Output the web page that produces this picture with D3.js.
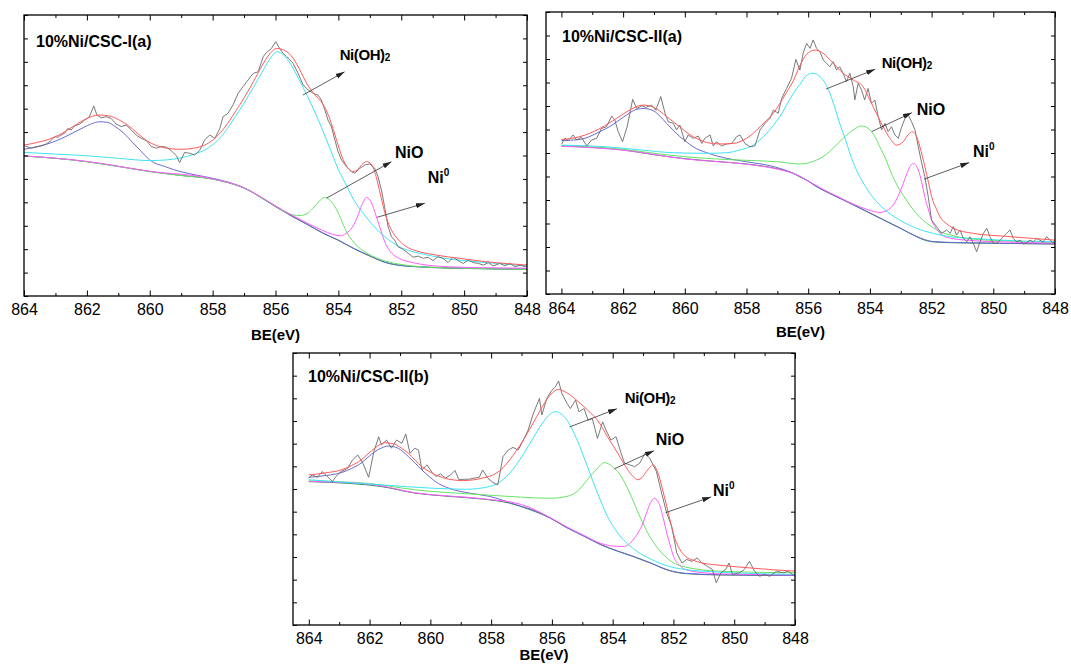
<!DOCTYPE html>
<html>
<head>
<meta charset="utf-8">
<script src="https://cdn.jsdelivr.net/npm/d3@7"></script>
<style>
  body { margin: 0; background: #fff; }
  svg { display: block; }
  text { font-family: "Liberation Sans", Arial, Helvetica, sans-serif; fill: #000; }
</style>
</head>
<body>
<svg id="chart" width="1071" height="667"></svg>
<script>
// ---------- Binding energy axis ----------
const beMajorTicks = [864, 862, 860, 858, 856, 854, 852, 850, 848];
const beMinorTicks = [863, 861, 859, 857, 855, 853, 851, 849];
const intensityTicks = d3.range(0, 100.001, 100 / 12);

// ---------- 10%Ni/CSC-I(a): [BE (eV), intensity (a.u.)] ----------
const p1Raw = [[863.98,53.4],[863.77,52.6],[863.61,53.0],[863.45,53.4],[863.29,54.1],[863.14,55.3],[863.03,56.7],[862.92,56.5],[862.82,57.3],[862.71,57.9],[862.61,59.6],[862.50,59.1],[862.39,60.5],[862.23,61.2],[862.07,62.6],[861.92,63.8],[861.78,67.6],[861.68,64.4],[861.54,63.4],[861.39,63.8],[861.23,63.2],[861.07,61.2],[860.91,60.3],[860.75,60.8],[860.59,59.1],[860.43,57.3],[860.27,56.1],[860.11,55.3],[859.95,53.2],[859.79,52.6],[859.63,53.2],[859.47,53.0],[859.31,51.6],[859.15,49.9],[859.05,47.5],[858.89,51.1],[858.73,50.8],[858.57,50.2],[858.41,51.8],[858.25,55.6],[858.09,57.3],[857.93,56.1],[857.77,59.6],[857.67,63.8],[857.51,65.0],[857.35,68.0],[857.19,72.1],[857.03,74.5],[856.87,76.9],[856.71,79.2],[856.55,79.8],[856.39,85.2],[856.29,86.6],[856.13,88.1],[855.99,90.5],[855.87,88.1],[855.76,86.4],[855.65,85.2],[855.55,84.2],[855.44,82.8],[855.28,79.2],[855.12,75.1],[854.96,73.3],[854.80,72.1],[854.65,71.5],[854.54,69.8],[854.43,66.2],[854.33,62.6],[854.22,60.2],[854.11,55.5],[854.01,51.4],[853.90,48.4],[853.74,46.0],[853.58,44.2],[853.48,43.7],[853.32,45.4],[853.16,46.6],[853.00,47.0],[852.84,45.4],[852.74,42.5],[852.63,37.7],[852.53,31.8],[852.42,24.7],[852.31,21.1],[852.21,19.9],[852.10,17.5],[851.94,16.6],[851.78,15.2],[851.62,13.8],[851.46,14.2],[851.30,13.4],[851.14,13.8],[850.99,12.6],[850.83,14.0],[850.67,13.4],[850.51,11.9],[850.35,13.8],[850.19,12.6],[850.03,11.6],[849.87,12.8],[849.71,11.9],[849.55,11.6],[849.39,11.0],[849.23,11.9],[849.08,10.7],[848.86,11.6],[848.70,10.7],[848.54,11.6],[848.38,10.4],[848.22,11.0],[848.06,10.4],[848.00,11.6]];
const p1Envelope = [[864,53.7],[863.6,54.6],[863.2,55.8],[862.8,57.8],[862.4,60.6],[862.1,62.6],[861.85,63.9],[861.6,64.4],[861.3,64.1],[861,62.8],[860.7,60.8],[860.4,58.0],[860.1,55.3],[859.8,53.6],[859.4,52.5],[859,52.2],[858.6,52.6],[858.2,54.0],[857.9,56.4],[857.6,60.2],[857.3,65.2],[857,70.5],[856.7,76.3],[856.4,82.5],[856.15,86.6],[855.97,88.1],[855.75,87.6],[855.5,85.5],[855.25,81.0],[855,75.5],[854.75,71.6],[854.5,68.4],[854.3,63.8],[854.15,58.8],[854,53.4],[853.85,48.6],[853.7,45.6],[853.55,44.3],[853.4,44.8],[853.25,46.8],[853.1,47.8],[852.95,46.9],[852.8,42.5],[852.65,35.5],[852.5,28.8],[852.35,24.3],[852.2,21.5],[852.05,19.5],[851.8,17.3],[851.5,16.0],[851,14.8],[850.5,13.9],[850,13.2],[849.3,12.2],[848.6,11.5],[848,11.0]];
const p1Background = [[864,49.8],[863,49.0],[862,47.8],[861,46.1],[860,44.3],[859,42.9],[858,41.6],[857.5,40.3],[857,38.4],[856.5,35.3],[856,31.8],[855.5,28.5],[855,25.5],[854.5,22.4],[854,19.8],[853.5,16.8],[853,14.2],[852.5,11.9],[852,10.8],[851.5,10.4],[851,10.1],[850,9.8],[849,9.6],[848,9.5]];
const p1Satellite = [[864,52.2],[863.5,53.4],[863.2,54.3],[862.7,56.6],[862.4,58.3],[862.1,60.0],[861.85,61.3],[861.6,62.0],[861.35,61.8],[861.1,60.3],[860.85,58.2],[860.6,55.3],[860.3,51.8],[860,48.4],[859.5,46.0],[859,44.2],[858.5,43.0],[858,41.9],[857.5,40.5],[857,38.5],[856.5,35.4],[856,31.9],[855.5,28.6],[855,25.6],[854.5,22.5],[854,19.9],[853.5,16.9],[853,14.3],[852.5,12.0],[852,10.9],[851,10.2],[850,9.9],[848,9.6]];
const p1NiOH2 = [[864,51.1],[863,50.5],[862,49.9],[861,49.0],[860,48.2],[859.5,48.4],[859,49.2],[858.6,50.4],[858.2,52.3],[857.9,54.8],[857.6,58.5],[857.3,63.5],[857,68.6],[856.7,74.3],[856.4,80.2],[856.15,84.8],[855.95,86.9],[855.75,85.8],[855.5,82.2],[855.25,77.0],[855,71.5],[854.75,65.5],[854.5,59.0],[854.25,52.0],[854,45.0],[853.75,39.5],[853.5,34.0],[853.25,30.0],[853,26.5],[852.7,22.8],[852.4,20.0],[852,17.2],[851.5,15.4],[851,14.2],[850.5,13.2],[850,12.6],[849,11.6],[848,10.7]];
const p1NiO = [[864,49.8],[863,49.0],[862,47.8],[861,46.1],[860,44.3],[859,42.9],[858,41.6],[857.5,40.3],[857,38.4],[856.5,35.4],[856,32.0],[855.6,29.4],[855.25,28.6],[855,29.3],[854.8,31.3],[854.6,33.8],[854.45,35.1],[854.3,34.4],[854.15,32.5],[854,29.5],[853.85,25.5],[853.7,22.0],[853.5,19.0],[853.3,16.8],[853.1,15.3],[852.8,13.6],[852.5,12.4],[852,11.2],[851.2,10.3],[850,9.9],[848,9.5]];
const p1Ni0 = [[864,49.9],[862,47.9],[860,44.4],[858,41.7],[857,38.5],[856.5,35.5],[856,32.1],[855.5,28.9],[855,26.0],[854.5,23.3],[854.2,22.0],[853.95,21.4],[853.75,22.3],[853.55,24.6],[853.4,28.0],[853.25,32.5],[853.1,35.1],[852.95,33.2],[852.8,28.5],[852.65,23.4],[852.5,18.6],[852.3,15.2],[852.05,13.3],[851.6,11.8],[851.2,11.0],[850.5,10.4],[849.5,10.1],[848,9.9]];

// ---------- 10%Ni/CSC-II(a) ----------
const p2Raw = [[863.99,53.2],[863.89,55.2],[863.78,54.4],[863.62,56.4],[863.51,54.6],[863.35,55.6],[863.18,52.5],[863.02,54.6],[862.86,55.2],[862.70,58.7],[862.54,59.3],[862.37,63.1],[862.27,61.7],[862.16,57.6],[862.02,54.0],[861.87,59.3],[861.69,69.0],[861.56,65.8],[861.40,66.7],[861.26,66.2],[861.08,67.0],[860.94,65.2],[860.78,70.0],[860.64,64.1],[860.54,61.1],[860.37,60.5],[860.27,58.2],[860.16,59.9],[860.00,54.0],[859.89,56.4],[859.73,55.2],[859.56,56.0],[859.45,53.4],[859.35,55.2],[859.18,56.4],[859.08,52.5],[858.97,54.0],[858.81,52.5],[858.64,53.2],[858.48,53.4],[858.32,55.8],[858.21,56.4],[858.05,53.4],[857.89,52.2],[857.73,52.5],[857.56,58.2],[857.40,60.5],[857.24,62.3],[857.13,65.2],[856.97,64.1],[856.86,69.4],[856.70,72.9],[856.54,76.5],[856.40,83.2],[856.27,79.4],[856.16,85.5],[856.05,88.9],[855.94,87.1],[855.84,90.1],[855.73,87.1],[855.62,85.9],[855.51,83.0],[855.41,81.8],[855.30,80.6],[855.19,82.4],[855.08,79.4],[854.98,80.6],[854.87,78.3],[854.76,75.3],[854.65,78.3],[854.54,73.5],[854.49,68.8],[854.38,74.7],[854.27,72.3],[854.17,68.8],[854.06,72.9],[853.95,67.6],[853.84,68.8],[853.73,62.9],[853.62,58.2],[853.51,60.5],[853.41,57.6],[853.30,59.3],[853.19,56.4],[853.08,55.2],[852.97,59.3],[852.86,62.3],[852.76,63.5],[852.65,61.1],[852.54,58.2],[852.43,52.2],[852.32,46.3],[852.22,41.6],[852.11,34.5],[852.00,26.2],[851.84,23.9],[851.68,21.5],[851.51,22.7],[851.40,21.5],[851.30,23.9],[851.19,20.9],[851.08,22.7],[850.97,19.7],[850.86,18.5],[850.76,20.3],[850.65,18.0],[850.54,15.0],[850.43,18.5],[850.32,21.5],[850.21,23.3],[850.11,20.3],[850.00,18.0],[849.89,18.0],[849.78,19.1],[849.67,20.3],[849.57,21.5],[849.46,22.7],[849.35,19.7],[849.24,18.5],[849.13,19.1],[849.03,17.7],[848.92,18.2],[848.81,19.1],[848.70,18.5],[848.59,19.7],[848.49,19.1],[848.38,18.5],[848.27,20.3],[848.16,19.1],[848.05,18.0],[848.00,19.1]];
const p2Envelope = [[864,54.8],[863.4,55.8],[862.75,58.7],[862.21,62.3],[861.9,64.5],[861.6,66.3],[861.35,67.0],[861.02,66.2],[860.8,64.8],[860.59,62.9],[860.38,61.1],[860.16,59.3],[859.95,57.4],[859.73,55.8],[859.5,54.6],[859.29,53.7],[858.86,53.2],[858.43,53.4],[858,55.2],[857.78,57.0],[857.56,59.3],[857.35,61.6],[857.13,64.1],[856.92,67.6],[856.7,71.5],[856.48,75.7],[856.27,81.0],[856.05,85.0],[855.78,86.5],[855.51,85.3],[855.19,81.8],[854.87,78.3],[854.54,75.9],[854.22,73.5],[854,68.8],[853.79,64.1],[853.57,59.3],[853.35,55.2],[853.14,52.8],[852.92,54.0],[852.76,56.5],[852.62,57.5],[852.52,56.6],[852.38,52.2],[852.22,45.2],[852.1,39.5],[852,34.5],[851.85,30.3],[851.73,27.4],[851.5,24.8],[851.3,23.3],[850.65,21.5],[849.78,20.6],[848.7,19.7],[848,19.1]];
const p2Background = [[864,52.5],[863,52.0],[862,51.1],[861,49.4],[860,48.0],[859,47.0],[858,46.1],[857.5,45.4],[857,44.4],[856.5,42.8],[856.25,41.4],[856,40.0],[855.75,38.2],[855.2,35.1],[854.65,32.2],[854.1,29.2],[853.55,26.2],[853,23.2],[852.5,20.4],[852.2,19.0],[851.95,18.5],[851.4,18.2],[850,18.0],[848,17.7]];
const p2Satellite = [[864,54.4],[863.4,54.8],[862.75,57.6],[862.4,59.6],[862.2,61.1],[861.9,63.4],[861.67,65.0],[861.35,65.8],[861.02,65.0],[860.8,63.0],[860.59,60.5],[860.35,57.8],[860.16,55.8],[859.95,54.0],[859.73,52.2],[859.29,50.1],[858.64,48.1],[858,46.9],[857.13,45.2],[856.48,42.8],[856,40.1],[855.75,38.3],[855.2,35.2],[854.65,32.3],[854.1,29.3],[853.55,26.3],[853,23.3],[852.5,20.5],[851.95,18.6],[851,18.2],[848,17.8]];
const p2NiOH2 = [[864,52.8],[862.54,52.2],[861.45,51.1],[860.37,50.1],[859.29,49.9],[858.64,50.1],[858.21,51.1],[857.78,52.8],[857.35,57.0],[856.92,62.9],[856.48,71.2],[856.27,74.3],[856.05,77.5],[855.84,78.3],[855.62,77.1],[855.45,74.8],[855.3,71.2],[855.15,66.5],[854.98,60.5],[854.8,55.0],[854.65,49.9],[854.5,45.5],[854.33,41.6],[854.15,38.2],[854,35.7],[853.57,30.4],[853.03,26.2],[852.49,23.3],[851.95,21.5],[851.4,20.3],[850.5,19.6],[849.78,19.1],[848,18.5]];
const p2NiO = [[864,52.6],[863,52.1],[862,51.3],[861,49.9],[860,48.7],[859,47.9],[858,47.4],[857,46.9],[856.27,46.1],[855.73,47.5],[855.45,49.2],[855.19,51.7],[854.87,55.2],[854.54,58.2],[854.27,59.6],[854,58.2],[853.84,55.8],[853.68,52.2],[853.5,48.2],[853.35,44.0],[853.2,40.3],[853.03,36.9],[852.8,33.0],[852.59,29.8],[852.38,27.2],[852.16,25.1],[851.95,23.5],[851.73,22.1],[851.3,20.7],[850.86,19.7],[849.78,18.9],[848,18.2]];
const p2Ni0 = [[864,52.4],[862,51.0],[860,47.9],[858,46.0],[857,44.3],[856.5,42.8],[856,40.1],[855.5,37.0],[855,34.3],[854.5,31.7],[854.1,30.0],[853.85,29.2],[853.68,28.9],[853.45,29.6],[853.24,31.6],[853.08,34.8],[852.92,39.2],[852.8,42.8],[852.7,45.2],[852.59,46.3],[852.5,45.6],[852.43,44.0],[852.32,39.5],[852.22,34.5],[852.1,29.8],[852,26.2],[851.85,23.2],[851.73,21.5],[851.4,19.8],[850.86,19.1],[849.5,18.4],[848,18.0]];

// ---------- 10%Ni/CSC-II(b) ----------
const p3Raw = [[864.00,54.0],[863.89,55.2],[863.72,54.3],[863.56,56.4],[863.39,54.6],[863.22,52.7],[863.11,54.6],[862.94,56.4],[862.72,57.6],[862.56,60.7],[862.39,62.5],[862.22,59.5],[862.03,54.3],[861.86,63.7],[861.70,69.2],[861.61,66.2],[861.44,68.0],[861.28,65.0],[861.11,68.0],[860.94,66.8],[860.81,70.2],[860.67,63.1],[860.52,65.0],[860.39,64.3],[860.28,57.0],[860.11,58.9],[859.94,56.0],[859.81,54.6],[859.67,55.6],[859.50,54.0],[859.33,55.2],[859.19,56.8],[859.06,53.4],[858.89,53.6],[858.72,53.6],[858.56,54.0],[858.39,54.3],[858.28,57.0],[858.11,54.0],[857.94,52.4],[857.78,51.5],[857.61,61.9],[857.44,64.3],[857.28,65.3],[857.11,64.3],[856.94,68.0],[856.78,71.7],[856.61,77.8],[856.41,83.3],[856.33,77.2],[856.17,83.3],[856.00,86.3],[855.89,87.5],[855.78,89.7],[855.67,85.1],[855.50,81.4],[855.39,79.6],[855.22,82.7],[855.11,78.4],[854.94,79.6],[854.81,75.3],[854.67,75.9],[854.50,68.6],[854.33,74.7],[854.22,71.7],[854.06,68.0],[853.89,69.2],[853.72,63.1],[853.61,59.5],[853.44,58.9],[853.28,58.2],[853.11,59.5],[852.94,63.1],[852.78,61.3],[852.67,58.9],[852.56,56.4],[852.39,48.5],[852.22,41.1],[852.06,36.3],[851.89,26.5],[851.72,22.8],[851.56,24.1],[851.39,23.4],[851.22,24.7],[851.06,22.8],[850.89,21.6],[850.72,20.4],[850.59,15.5],[850.44,19.2],[850.28,20.4],[850.17,22.8],[850.06,18.6],[849.83,19.2],[849.67,20.4],[849.50,23.4],[849.33,19.8],[849.17,17.9],[849.00,18.6],[848.83,17.9],[848.61,19.8],[848.39,19.2],[848.22,19.8],[848.00,17.9]];
const p3Envelope = [[864,55.2],[863.4,56.0],[862.94,57.0],[862.6,58.6],[862.28,60.7],[862.05,62.9],[861.83,65.0],[861.5,67.0],[861.17,66.5],[860.95,65.0],[860.72,63.1],[860.5,60.6],[860.28,58.2],[860.05,56.5],[859.83,55.2],[859.39,53.6],[858.94,53.1],[858.28,54.0],[857.83,55.8],[857.6,57.9],[857.39,60.7],[857.17,64.1],[856.94,68.0],[856.72,72.2],[856.5,76.6],[856.28,80.9],[856.06,84.5],[855.78,86.6],[855.55,85.6],[855.39,84.5],[855.17,82.5],[854.94,80.2],[854.72,77.9],[854.5,75.3],[854.17,69.2],[853.83,63.1],[853.5,57.0],[853.33,54.6],[853.17,53.4],[853.03,54.3],[852.89,56.4],[852.75,58.3],[852.67,58.9],[852.55,57.0],[852.44,53.4],[852.33,48.5],[852.22,43.6],[852.08,37.0],[851.94,31.4],[851.78,27.6],[851.61,25.3],[851.35,23.8],[851.06,22.8],[850.5,22.0],[849.94,21.4],[848.83,20.4],[848,19.8]];
const p3Background = [[864,52.7],[862.72,52.1],[861.61,50.9],[860.5,48.5],[859.39,47.3],[858.28,46.3],[857.39,44.8],[856.72,42.4],[856.06,39.3],[855.5,35.7],[854.94,32.6],[854.39,29.5],[853.83,27.1],[853.28,25.0],[852.72,22.6],[852.17,20.1],[851.61,18.9],[850.5,18.4],[848,18.2]];
const p3Satellite = [[864,54.3],[863.4,55.0],[862.94,56.0],[862.6,57.5],[862.28,59.5],[862.05,61.7],[861.83,63.7],[861.6,65.1],[861.39,65.8],[861.06,65.0],[860.9,63.7],[860.72,61.9],[860.5,59.5],[860.28,57.0],[860.05,54.7],[859.83,52.7],[859.39,50.3],[858.72,48.5],[858.06,47.3],[857.17,44.2],[856.5,41.8],[856.06,39.4],[855.5,35.8],[854.94,32.7],[854.39,29.6],[853.83,27.2],[853.28,25.1],[852.72,22.7],[852.17,20.2],[851.61,19.0],[850.5,18.5],[848,18.3]];
const p3NiOH2 = [[864,53.4],[861.61,51.5],[859.94,50.3],[858.83,49.9],[858.06,50.9],[857.61,53.4],[857.17,58.9],[856.72,66.8],[856.28,74.7],[856.05,77.6],[855.89,78.4],[855.7,77.6],[855.5,75.3],[855.17,68.0],[854.83,58.2],[854.5,48.5],[854.17,39.9],[853.83,33.8],[853.28,27.7],[852.72,24.1],[852.17,21.6],[851.06,19.8],[848,18.6]];
const p3NiO = [[864,53.0],[862,52.0],[860.5,49.7],[858.28,47.9],[857,47.0],[856.06,46.6],[855.5,47.3],[855.17,49.1],[854.83,53.4],[854.5,57.6],[854.28,59.7],[854.0,58.2],[853.72,54.6],[853.39,47.3],[853.06,38.7],[852.72,31.4],[852.28,25.3],[851.72,21.6],[850.5,19.8],[848,19.2]];
const p3Ni0 = [[864,52.8],[862,51.8],[860.5,48.6],[858.28,46.4],[857,44.3],[856.06,39.5],[855.5,36.0],[854.94,32.9],[854.39,30.0],[853.83,28.9],[853.61,28.9],[853.35,31.0],[853.17,33.8],[853.0,37.5],[852.89,41.1],[852.75,45.0],[852.63,46.6],[852.52,45.5],[852.44,43.6],[852.33,39.0],[852.22,33.8],[852.1,29.0],[852.0,25.3],[851.8,22.0],[851.61,20.4],[851,19.2],[850.5,18.8],[848,18.4]];

// ---------- Panel layout and annotations ----------
const panels = [
  { title: "10%Ni/CSC-I(a)", left: 24, top: 15, right: 527, bottom: 296, beStart: 864,
    titleDx: 12, titleDy: 32, tickBaseline: 19, axisTitleBaseline: 44,
    raw: p1Raw, envelope: p1Envelope, background: p1Background,
    satellite: p1Satellite, niOH2: p1NiOH2, niO: p1NiO, ni0: p1Ni0,
    notes: { niOH2: { from: [855.13, 71.5], to: [853.80, 79.8], at: [853.96, 84.0] },
             niO:   { from: [854.38, 34.8], to: [852.31, 47.8], at: [852.20, 49.1] },
             ni0:   { from: [852.77, 28.0], to: [851.25, 33.0], at: [851.16, 40.2] } } },
  { title: "10%Ni/CSC-II(a)", left: 546, top: 12, right: 1055, bottom: 294, beStart: 864.5,
    titleDx: 16, titleDy: 30, tickBaseline: 20, axisTitleBaseline: 43,
    raw: p2Raw, envelope: p2Envelope, background: p2Background,
    satellite: p2Satellite, niOH2: p2NiOH2, niO: p2NiO, ni0: p2Ni0,
    notes: { niOH2: { from: [855.42, 72.7], to: [853.83, 79.7], at: [853.62, 80.1] },
             niO:   { from: [853.94, 57.6], to: [852.64, 64.3], at: [852.48, 63.5] },
             ni0:   { from: [852.25, 40.7], to: [850.78, 46.6], at: [850.66, 48.6] } } },
  { title: "10%Ni/CSC-II(b)", left: 293, top: 353, right: 795, bottom: 625, beStart: 864.52,
    titleDx: 15, titleDy: 29, tickBaseline: 19, axisTitleBaseline: 35,
    raw: p3Raw, envelope: p3Envelope, background: p3Background,
    satellite: p3Satellite, niOH2: p3NiOH2, niO: p3NiO, ni0: p3Ni0,
    notes: { niOH2: { from: [855.42, 72.8], to: [853.86, 79.5], at: [853.60, 81.6] },
             niO:   { from: [853.95, 57.4], to: [852.64, 64.1], at: [852.58, 66.2] },
             ni0:   { from: [852.26, 41.3], to: [850.76, 47.1], at: [850.70, 47.4] } } }
];

const colors = {
  raw: "#6a6a6a", envelope: "#ff5a5a", background: "#2f7f56",
  satellite: "#6b6bcf", niOH2: "#3fe3f2", niO: "#66e466", ni0: "#ff5cff"
};

const svg = d3.select("#chart");
svg.append("rect").attr("width", 1071).attr("height", 667).attr("fill", "#fff");

svg.append("defs").append("marker")
  .attr("id", "arrowHead")
  .attr("viewBox", "0 -3 9 6")
  .attr("refX", 9).attr("refY", 0)
  .attr("markerUnits", "userSpaceOnUse")
  .attr("markerWidth", 9).attr("markerHeight", 6)
  .attr("orient", "auto")
  .append("path").attr("d", "M0,-2.6L9,0L0,2.6Z").attr("fill", "#222");

panels.forEach((p, i) => {
  const x = d3.scaleLinear().domain([p.beStart, 848]).range([p.left, p.right]);
  const y = d3.scaleLinear().domain([0, 100]).range([p.bottom, p.top]);
  const g = svg.append("g");

  const clipId = "plotClip" + i;
  svg.select("defs").append("clipPath").attr("id", clipId)
    .append("rect").attr("x", p.left).attr("y", p.top)
    .attr("width", p.right - p.left).attr("height", p.bottom - p.top);

  const smooth = d3.line().x(d => x(d[0])).y(d => y(d[1])).curve(d3.curveMonotoneX);
  const jagged = d3.line().x(d => x(d[0])).y(d => y(d[1]));

  const plot = g.append("g").attr("clip-path", `url(#${clipId})`);
  const series = [
    ["background", p.background, smooth],
    ["satellite", p.satellite, smooth],
    ["niO", p.niO, smooth],
    ["ni0", p.ni0, smooth],
    ["niOH2", p.niOH2, smooth],
    ["raw", p.raw, jagged],
    ["envelope", p.envelope, smooth]
  ];
  series.forEach(([key, data, gen]) => {
    plot.append("path").datum(data)
      .attr("d", gen)
      .attr("fill", "none")
      .attr("stroke", colors[key])
      .attr("stroke-width", key === "raw" ? 0.9 : 1)
      .attr("stroke-linejoin", "round");
  });

  // axes: ticks point into the frame on all four sides
  const styleAxis = sel => {
    sel.select(".domain").remove();
    sel.selectAll("line").attr("stroke", "#000").attr("stroke-width", 1);
  };
  const bottomMajor = g.append("g").attr("transform", `translate(0,${p.bottom})`)
    .call(d3.axisBottom(x).tickValues(beMajorTicks).tickSize(-5.5).tickSizeOuter(0)
      .tickPadding(p.tickBaseline - 11.4).tickFormat(d3.format("d")));
  styleAxis(bottomMajor);
  bottomMajor.selectAll("text").attr("font-size", 16).attr("fill", "#000");
  const bottomMinor = g.append("g").attr("transform", `translate(0,${p.bottom})`)
    .call(d3.axisBottom(x).tickValues(beMinorTicks).tickSize(-3).tickSizeOuter(0).tickFormat(""));
  styleAxis(bottomMinor);
  const topMajor = g.append("g").attr("transform", `translate(0,${p.top})`)
    .call(d3.axisTop(x).tickValues(beMajorTicks).tickSize(-5.5).tickSizeOuter(0).tickFormat(""));
  styleAxis(topMajor);
  const topMinor = g.append("g").attr("transform", `translate(0,${p.top})`)
    .call(d3.axisTop(x).tickValues(beMinorTicks).tickSize(-3).tickSizeOuter(0).tickFormat(""));
  styleAxis(topMinor);
  const leftAxis = g.append("g").attr("transform", `translate(${p.left},0)`)
    .call(d3.axisLeft(y).tickValues(intensityTicks).tickSize(-4).tickSizeOuter(0).tickFormat(""));
  styleAxis(leftAxis);
  const rightAxis = g.append("g").attr("transform", `translate(${p.right},0)`)
    .call(d3.axisRight(y).tickValues(intensityTicks).tickSize(-4).tickSizeOuter(0).tickFormat(""));
  styleAxis(rightAxis);

  g.append("rect")
    .attr("x", p.left).attr("y", p.top)
    .attr("width", p.right - p.left).attr("height", p.bottom - p.top)
    .attr("fill", "none").attr("stroke", "#000").attr("stroke-width", 1.3);

  g.append("text")
    .attr("x", (p.left + p.right) / 2).attr("y", p.bottom + p.axisTitleBaseline)
    .attr("text-anchor", "middle").attr("font-size", 15).attr("font-weight", "bold")
    .text("BE(eV)");

  g.append("text")
    .attr("x", p.left + p.titleDx).attr("y", p.top + p.titleDy)
    .attr("font-size", 16).attr("font-weight", "bold")
    .text(p.title);

  // peak assignments with arrows
  const arrow = n => g.append("line")
    .attr("x1", x(n.from[0])).attr("y1", y(n.from[1]))
    .attr("x2", x(n.to[0])).attr("y2", y(n.to[1]))
    .attr("stroke", "#333").attr("stroke-width", 0.8)
    .attr("marker-end", "url(#arrowHead)");

  arrow(p.notes.niOH2);
  const t1 = g.append("text").attr("x", x(p.notes.niOH2.at[0])).attr("y", y(p.notes.niOH2.at[1]))
    .attr("font-size", 15).attr("font-weight", "bold").attr("letter-spacing", -0.4);
  t1.append("tspan").text("Ni(OH)");
  t1.append("tspan").attr("font-size", 10).attr("dy", 1).attr("letter-spacing", 0).text("2");

  arrow(p.notes.niO);
  g.append("text").attr("x", x(p.notes.niO.at[0])).attr("y", y(p.notes.niO.at[1]))
    .attr("font-size", 16).attr("font-weight", "bold").text("NiO");

  arrow(p.notes.ni0);
  const t3 = g.append("text").attr("x", x(p.notes.ni0.at[0])).attr("y", y(p.notes.ni0.at[1]))
    .attr("font-size", 16).attr("font-weight", "bold");
  t3.append("tspan").text("Ni");
  t3.append("tspan").attr("font-size", 10).attr("dy", -7).text("0");
});
</script>
</body>
</html>
